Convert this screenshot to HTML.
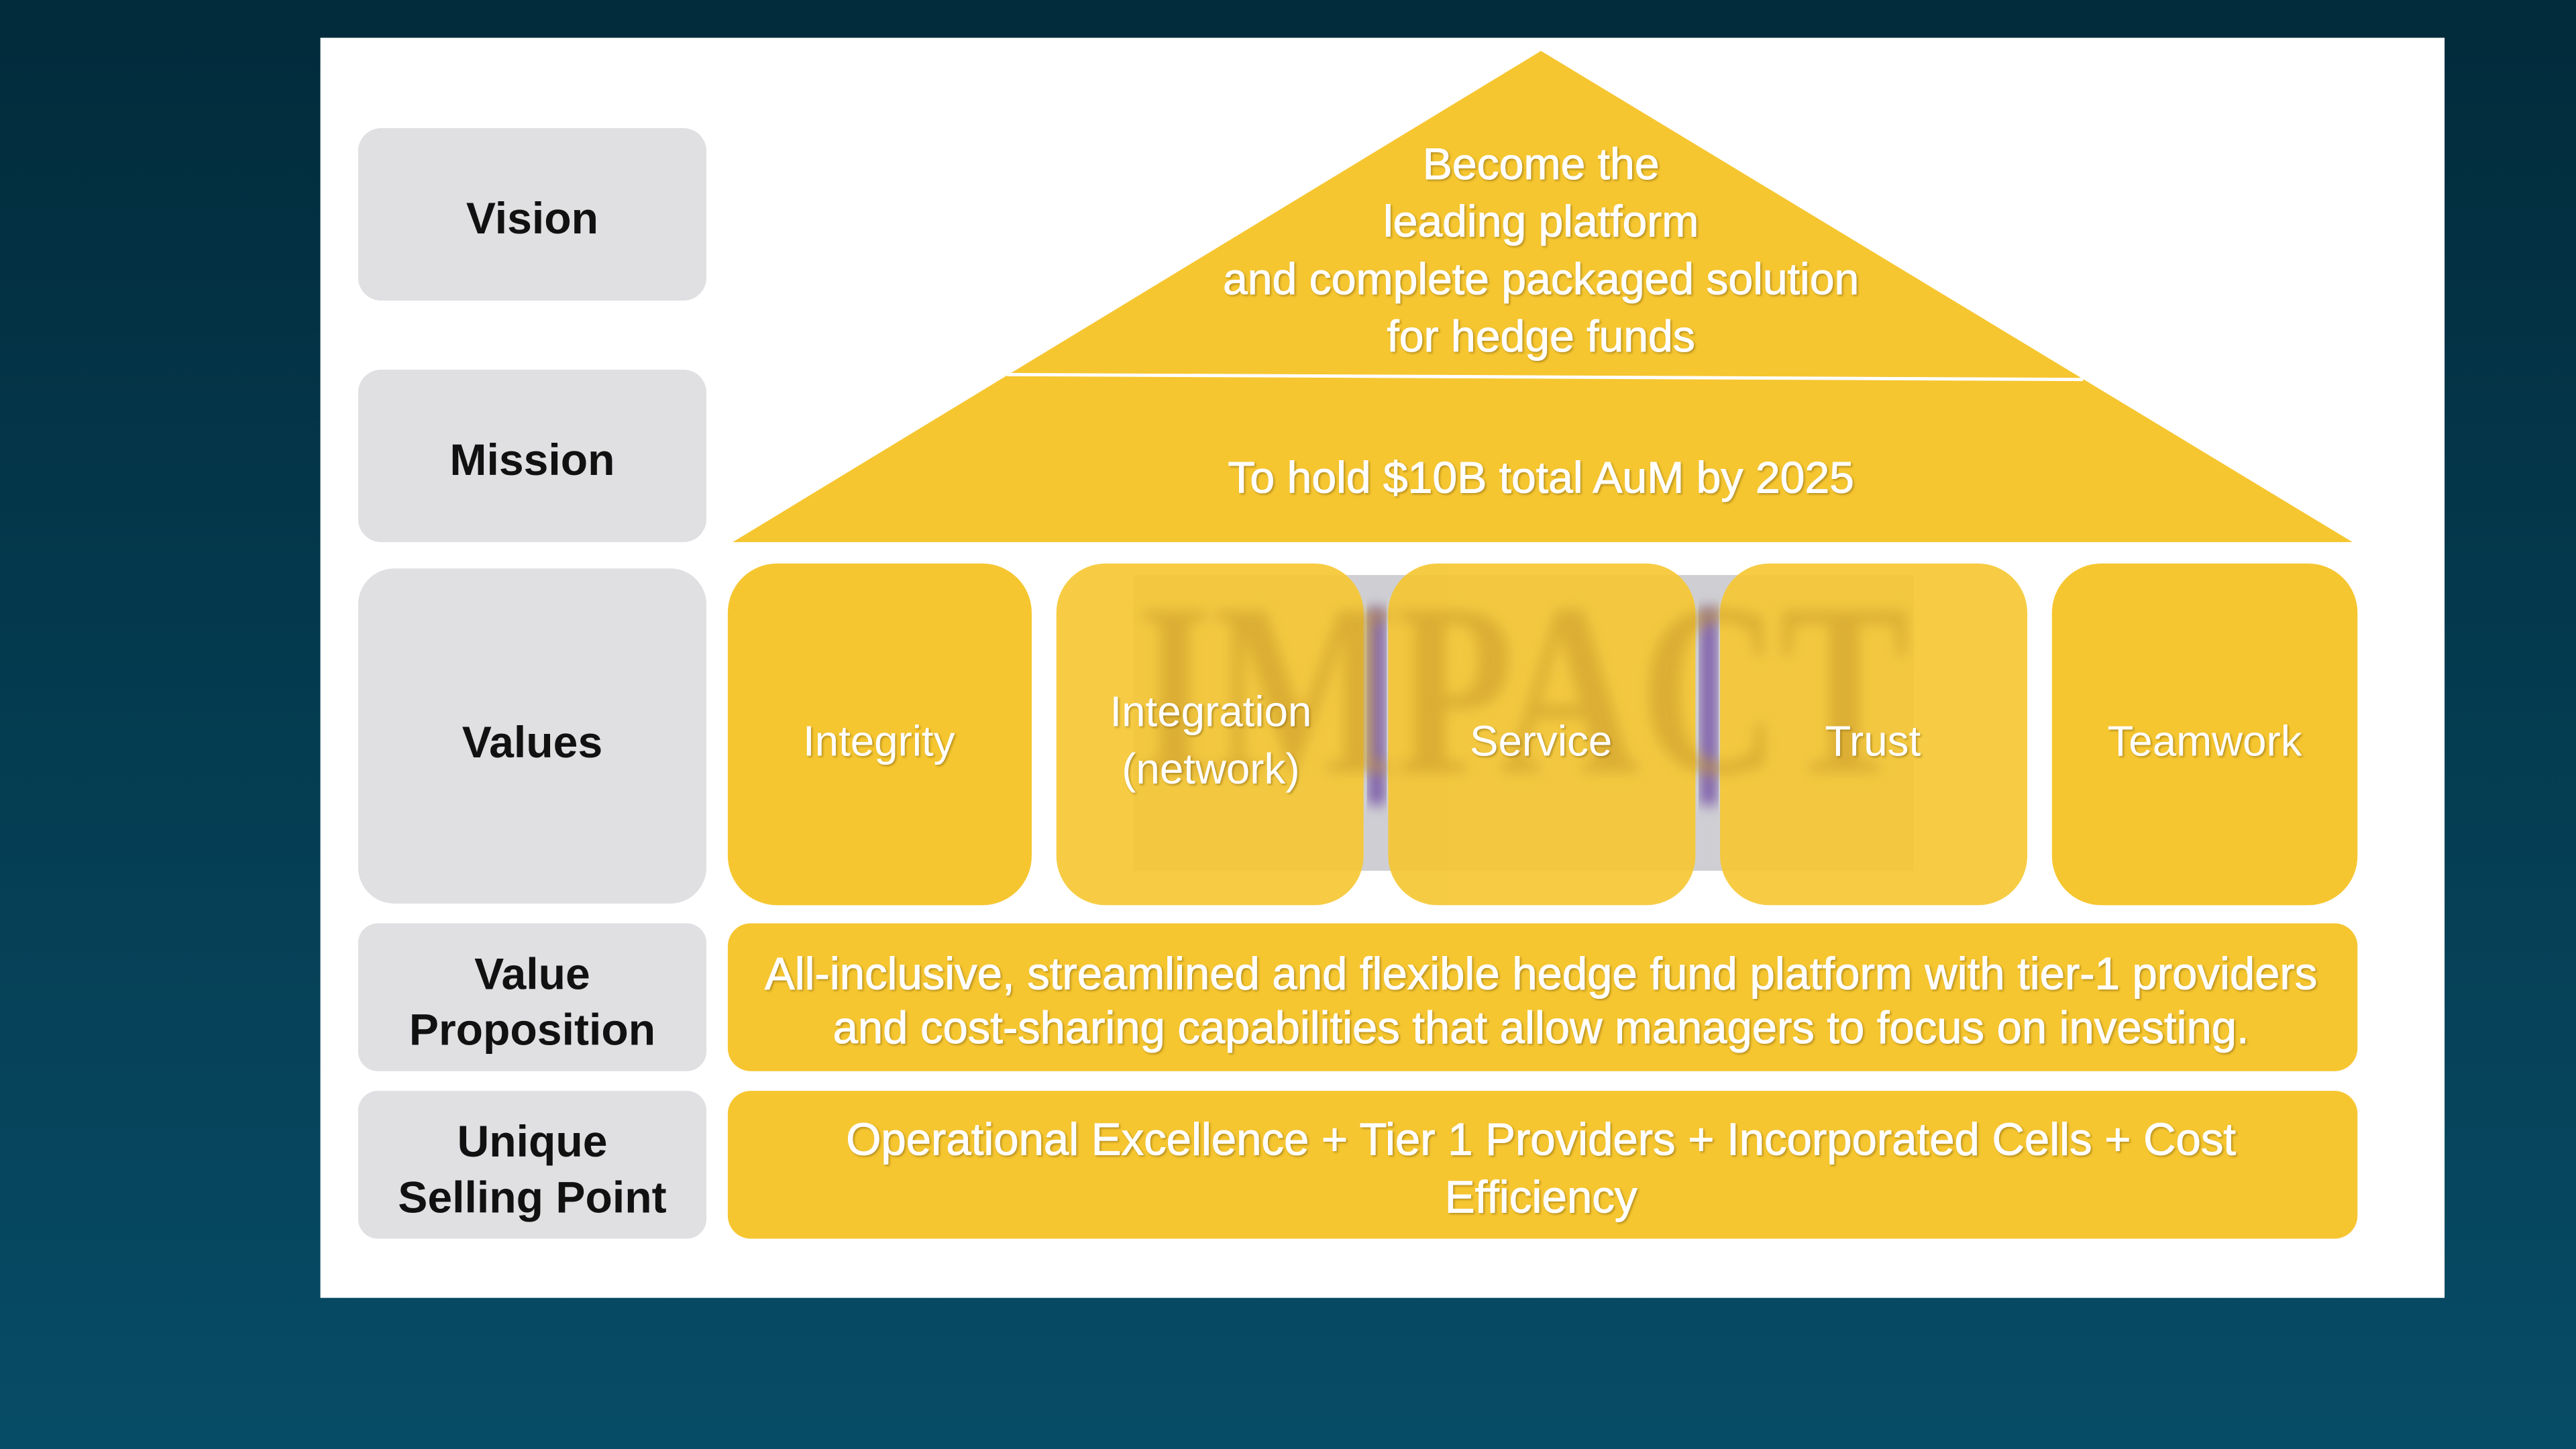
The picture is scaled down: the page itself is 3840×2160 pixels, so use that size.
<!DOCTYPE html>
<html><head><meta charset="utf-8"><style>
html,body{margin:0;padding:0;width:3840px;height:2160px;overflow:hidden;background:#053a50}
svg{display:block}
</style></head><body>
<svg width="3840" height="2160" viewBox="0 0 1568 882" preserveAspectRatio="none" xmlns="http://www.w3.org/2000/svg" font-family="Liberation Sans, sans-serif">
<defs>
<linearGradient id="bg" x1="0" y1="0" x2="0" y2="1">
<stop offset="0" stop-color="#022b3b"/><stop offset="1" stop-color="#074c66"/>
</linearGradient>
<filter id="bl"><feGaussianBlur stdDeviation="4"/></filter>
<filter id="sh"><feDropShadow dx="0.8" dy="0.8" stdDeviation="0.6" flood-color="#8a6a10" flood-opacity="0.6"/></filter>
</defs>
<rect width="1568" height="882" fill="url(#bg)"/>
<rect x="195" y="23" width="1293" height="767" fill="#ffffff"/>
<g fill="#e0e0e2">
<rect x="218" y="78" width="212" height="105" rx="14"/>
<rect x="218" y="225" width="212" height="105" rx="14"/>
<rect x="218" y="346" width="212" height="204" rx="22"/>
<rect x="218" y="562" width="212" height="90" rx="12"/>
<rect x="218" y="664" width="212" height="90" rx="12"/>
</g>
<g fill="#111" font-weight="bold" font-size="27" text-anchor="middle">
<text x="324" y="142">Vision</text>
<text x="324" y="289">Mission</text>
<text x="324" y="461">Values</text>
<text x="324" y="602">Value</text>
<text x="324" y="636">Proposition</text>
<text x="324" y="704">Unique</text>
<text x="324" y="738">Selling Point</text>
</g>
<polygon points="938,31 1432,330 446,330" fill="#f6c630"/>
<line x1="613" y1="228" x2="1268" y2="231" stroke="#fff" stroke-width="2"/>
<g fill="#fff" font-size="27" text-anchor="middle" filter="url(#sh)" stroke="#fff" stroke-width="0.4">
<text x="938" y="109">Become the</text>
<text x="938" y="144">leading platform</text>
<text x="938" y="179">and complete packaged solution</text>
<text x="938" y="214">for hedge funds</text>
<text x="938" y="300">To hold $10B total AuM by 2025</text>
</g>
<rect x="690" y="350" width="475" height="180" fill="#cfcfd3"/>
<rect x="833" y="370" width="10" height="120" fill="#7a5aa8" filter="url(#bl)"/>
<rect x="1035" y="370" width="10" height="120" fill="#7a5aa8" filter="url(#bl)"/>
<g fill="#f6c630">
<rect x="443" y="343" width="185" height="208" rx="30"/>
<rect x="1249" y="343" width="186" height="208" rx="30"/>
</g>
<g fill="#f6c630" opacity="0.9">
<rect x="643" y="343" width="187" height="208" rx="30"/>
<rect x="845" y="343" width="187" height="208" rx="30"/>
<rect x="1047" y="343" width="187" height="208" rx="30"/>
</g>
<text x="927" y="470" font-family="Liberation Serif, serif" font-weight="bold" font-size="150" fill="#c99a2a" opacity="0.55" text-anchor="middle" filter="url(#bl)" textLength="470" lengthAdjust="spacingAndGlyphs">IMPACT</text>
<g fill="#fff" font-size="26" text-anchor="middle" filter="url(#sh)">
<text x="535" y="460">Integrity</text>
<text x="737" y="442">Integration</text>
<text x="737" y="477">(network)</text>
<text x="938" y="460">Service</text>
<text x="1140" y="460">Trust</text>
<text x="1342" y="460">Teamwork</text>
</g>
<rect x="443" y="562" width="992" height="90" rx="14" fill="#f6c630"/>
<rect x="443" y="664" width="992" height="90" rx="14" fill="#f6c630"/>
<g fill="#fff" font-size="27.5" text-anchor="middle" filter="url(#sh)" stroke="#fff" stroke-width="0.4">
<text x="938" y="602" textLength="945" lengthAdjust="spacingAndGlyphs">All-inclusive, streamlined and flexible hedge fund platform with tier-1 providers</text>
<text x="938" y="635" textLength="862" lengthAdjust="spacingAndGlyphs">and cost-sharing capabilities that allow managers to focus on investing.</text>
<text x="938" y="703" textLength="846" lengthAdjust="spacingAndGlyphs">Operational Excellence + Tier 1 Providers + Incorporated Cells + Cost</text>
<text x="938" y="738">Efficiency</text>
</g>
</svg>
</body></html>
